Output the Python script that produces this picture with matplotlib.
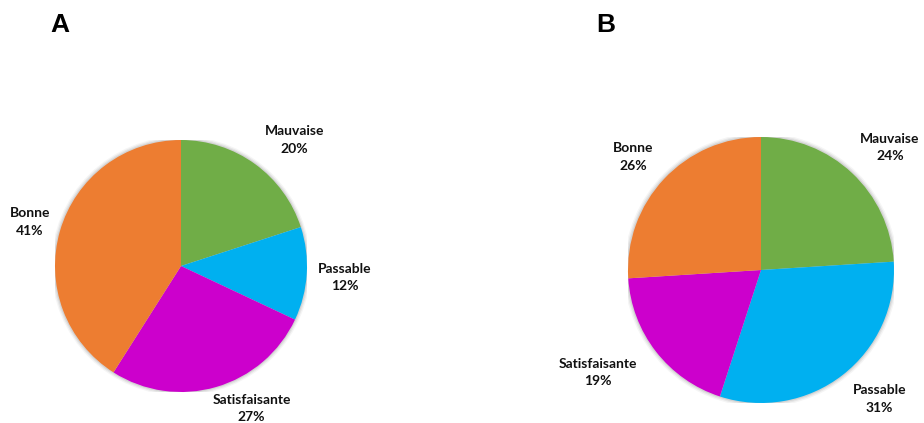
import matplotlib as mpl
mpl.use('Agg')
from matplotlib import pyplot as plt
from matplotlib.patches import Circle

categories = ['Mauvaise', 'Passable', 'Satisfaisante', 'Bonne']
values_a = [20, 12, 27, 41]
values_b = [24, 31, 19, 26]
colors = ['#70AD47', '#00B0F0', '#CC00CC', '#ED7D31']

# label centres in units of the pie radius
label_pos_a = [(0.90, 1.00), (1.30, -0.09), (0.56, -1.13), (-1.20, 0.35)]
label_pos_b = [(0.97, 0.92), (0.89, -0.97), (-1.23, -0.77), (-0.96, 0.85)]

W, H = 924, 423
fig = plt.figure(figsize=(W / 100, H / 100), dpi=100)


def draw_pie(cx, cy, r, values, label_pos, letter, letter_xy):
    ax = fig.add_axes([(cx - r) / W, (H - cy - r) / H, 2 * r / W, 2 * r / H])
    # soft shadow round the rim
    for k, a in [(1.03, 0.04), (1.02, 0.06), (1.01, 0.08)]:
        ax.add_patch(Circle((0, 0), k, color='#000000', alpha=a, lw=0, zorder=0))
    ax.pie(values, colors=colors, startangle=90, counterclock=False,
           radius=1, wedgeprops=dict(linewidth=0, zorder=1))
    for name, v, (x, y) in zip(categories, values, label_pos):
        ax.text(x, y, f'{name}\n{v}%', ha='center', va='center',
                fontsize=10, fontweight='bold', family='Lato',
                linespacing=1.55, color='#111111')
    ax.set_xlim(-1, 1)
    ax.set_ylim(-1, 1)
    ax.set_aspect('equal')
    ax.axis('off')
    fig.text(letter_xy[0] / W, 1 - letter_xy[1] / H, letter, ha='center',
             va='center', fontsize=19, fontweight='bold',
             family='Liberation Sans')


draw_pie(181, 266, 126, values_a, label_pos_a, 'A', (60, 25))
draw_pie(761, 270, 133, values_b, label_pos_b, 'B', (606, 25))

fig.savefig('out.png', dpi=100, facecolor='white')
